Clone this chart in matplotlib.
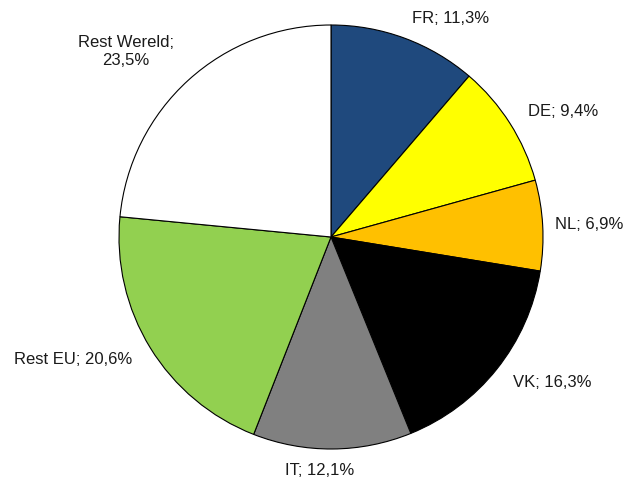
import matplotlib
matplotlib.use("Agg")
import matplotlib.pyplot as plt

plt.rcParams['font.family'] = ['Liberation Sans Narrow', 'Liberation Sans', 'DejaVu Sans']

landen = ['FR', 'DE', 'NL', 'VK', 'IT', 'Rest EU', 'Rest Wereld']
aandeel = [11.3, 9.4, 6.9, 16.3, 12.1, 20.6, 23.5]
kleuren = ['#1F497D', '#FFFF00', '#FFC000', '#000000', '#808080', '#92D050', '#FFFFFF']

labels = []
for l, a in zip(landen, aandeel):
    s = f'{a:.1f}%'.replace('.', ',')
    if l == 'Rest Wereld':
        labels.append(l + ';\n' + s)
    else:
        labels.append(l + '; ' + s)

fig = plt.figure(figsize=(6.28, 4.83), dpi=100)
ax = fig.add_axes([0, 0, 1, 1])
wedges, texts = ax.pie(aandeel, labels=labels, colors=kleuren, startangle=90,
                       counterclock=False, labeldistance=1.1,
                       wedgeprops=dict(edgecolor='black', linewidth=0.8),
                       textprops=dict(fontsize=12, color='#1a1a1a'))

# Excel-achtige uitlijning van de labels
for t, l in zip(texts, landen):
    t.set_va('center')
    x, y = t.get_position()
    if l == 'IT':
        t.set_ha('center')
        t.set_position((x - 0.06, y))
    if l == 'NL':
        t.set_position((x - 0.04, y))
    if l == 'Rest Wereld':
        t.set_multialignment('center')
        t.set_position((x, y + 0.06))

ax.set_xlim(-331 / 212, (628 - 331) / 212)
ax.set_ylim(-246 / 212, (483 - 246) / 212)
ax.set_aspect('auto')
ax.axis('off')

fig.savefig('out.png', dpi=100)
